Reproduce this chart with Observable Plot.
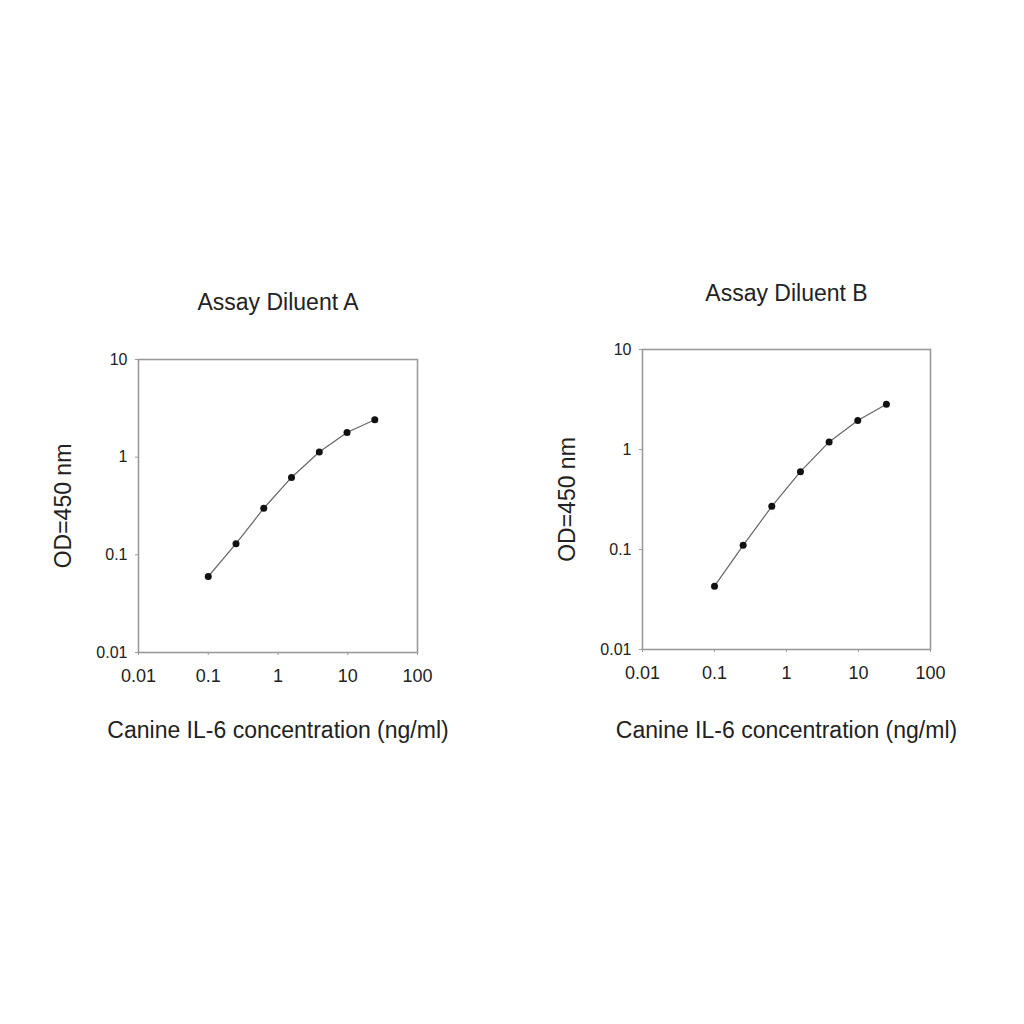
<!DOCTYPE html>
<html>
<head>
<meta charset="utf-8">
<script src="https://cdn.jsdelivr.net/npm/d3@7"></script>
<script src="https://cdn.jsdelivr.net/npm/@observablehq/plot@0.6"></script>
<style>
  html, body { margin: 0; padding: 0; background: #fff; }
  #wrap { position: relative; width: 1024px; height: 1024px; background: #fff; font-family: "Liberation Sans", Arial, sans-serif; }
  .panel { position: absolute; }
</style>
</head>
<body>
<div id="wrap">
  <div class="panel" id="pa" style="left:0px; top:250px;"></div>
  <div class="panel" id="pb" style="left:500px; top:250px;"></div>
</div>
<script>
// Data
const concentration = [0.1, 0.25, 0.625, 1.5625, 3.906, 9.766, 24.41];
const odDiluentA = [0.06, 0.13, 0.30, 0.62, 1.13, 1.79, 2.42];
const odDiluentB = [0.043, 0.11, 0.27, 0.60, 1.19, 1.95, 2.84];
const titles = ["Assay Diluent A", "Assay Diluent B"];
const xTicks = [0.01, 0.1, 1, 10, 100];
const xTickLabels = ["0.01", "0.1", "1", "10", "100"];
const yTicks = [0.01, 0.1, 1, 10];
const yTickLabels = ["0.01", "0.1", "1", "10"];
const xLabel = "Canine IL-6 concentration (ng/ml)";
const yLabel = "OD=450 nm";

function makePanel(values, title, m, titleDy, xLabelOffset) {
  const data = concentration.map((c, i) => ({c, od: values[i]}));
  return Plot.plot({
    width: m.width,
    height: m.height,
    marginLeft: m.left,
    marginRight: m.right,
    marginTop: m.top,
    marginBottom: m.bottom,
    style: {fontFamily: "'Liberation Sans', Arial, sans-serif", color: "#222", background: "#fff"},
    x: {type: "log", domain: [0.01, 100]},
    y: {type: "log", domain: [0.01, 10]},
    marks: [
      Plot.frame({stroke: "#9a9a9a", strokeWidth: 1.6}),
      Plot.axisX(xTicks, {
        tickSize: 3, tickPadding: 14, stroke: "#9a9a9a", fontSize: 18, fill: "#222",
        tickFormat: d => xTickLabels[xTicks.indexOf(d)],
        label: xLabel, labelAnchor: "center", labelOffset: xLabelOffset, labelArrow: "none"
      }),
      Plot.axisY(yTicks, {
        tickSize: 3, tickPadding: 8, stroke: "#9a9a9a", fontSize: 16, fill: "#222",
        tickFormat: d => yTickLabels[yTicks.indexOf(d)],
        label: yLabel, labelAnchor: "center", labelOffset: 84, labelArrow: "none"
      }),
      Plot.line(data, {x: "c", y: "od", stroke: "#666", strokeWidth: 1.2}),
      Plot.dot(data, {x: "c", y: "od", r: 3.5, fill: "#111", stroke: "none"}),
      Plot.text([title], {frameAnchor: "top", dy: titleDy, fontSize: 23, fill: "#222", lineAnchor: "middle"})
    ]
  });
}

const svgA = makePanel(odDiluentA, titles[0], {width: 480, height: 520, left: 138, right: 63, top: 109, bottom: 118}, -57, 85);
const svgB = makePanel(odDiluentB, titles[1], {width: 500, height: 520, left: 142, right: 70, top: 99, bottom: 121}, -56, 88);
document.getElementById("pa").appendChild(svgA);
document.getElementById("pb").appendChild(svgB);
// axis label font sizes and strip any arrow
for (const s of [svgA, svgB]) {
  s.querySelectorAll("g[aria-label='x-axis label'], g[aria-label='y-axis label']").forEach(g => {
    g.setAttribute("font-size", 23);
    g.querySelectorAll("text").forEach(t => {
      t.textContent = t.textContent.replace(/\s*[→↑←↓]\s*/g, "").trim();
    });
  });
}
</script>
</body>
</html>
